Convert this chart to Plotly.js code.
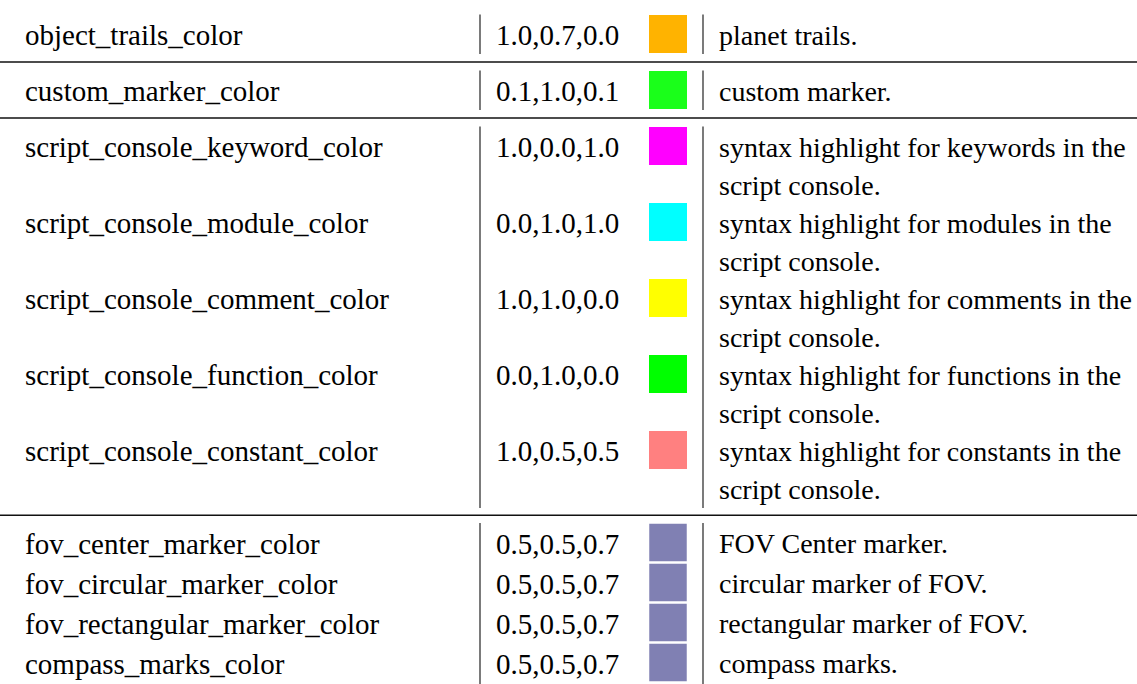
<!DOCTYPE html>
<html>
<head>
<meta charset="utf-8">
<script src="https://cdn.plot.ly/plotly-3.0.1.min.js"></script>
<style>html,body{margin:0;padding:0;background:#fff;}#chart{width:1137px;height:684px;}</style>
</head>
<body>
<div id="chart"></div>
<script>
// ---- data ----
var names = [
  "object_trails_color",
  "custom_marker_color",
  "script_console_keyword_color",
  "script_console_module_color",
  "script_console_comment_color",
  "script_console_function_color",
  "script_console_constant_color",
  "fov_center_marker_color",
  "fov_circular_marker_color",
  "fov_rectangular_marker_color",
  "compass_marks_color"
];
var values = [
  "1.0,0.7,0.0",
  "0.1,1.0,0.1",
  "1.0,0.0,1.0",
  "0.0,1.0,1.0",
  "1.0,1.0,0.0",
  "0.0,1.0,0.0",
  "1.0,0.5,0.5",
  "0.5,0.5,0.7",
  "0.5,0.5,0.7",
  "0.5,0.5,0.7",
  "0.5,0.5,0.7"
];
var descriptions = [
  "planet trails.",
  "custom marker.",
  "syntax highlight for keywords in the\nscript console.",
  "syntax highlight for modules in the\nscript console.",
  "syntax highlight for comments in the\nscript console.",
  "syntax highlight for functions in the\nscript console.",
  "syntax highlight for constants in the\nscript console.",
  "FOV Center marker.",
  "circular marker of FOV.",
  "rectangular marker of FOV.",
  "compass marks."
];
var groups = [0, 1, 2, 2, 2, 2, 2, 3, 3, 3, 3];

// ---- layout computation ----
var W = 1137, H = 684;
var FONT = "Liberation Serif";
var FS = 29, FS_DESC = 28;
var lineStep = {0: 38, 1: 38, 2: 38, 3: 40};
var groupGap = 54.5;
var firstY = 34;

var rowY = [], lastLineY = [], groupStart = {}, groupEnd = {};
var y = firstY;
for (var i = 0; i < names.length; i++) {
  if (i > 0) {
    var prevLines = descriptions[i - 1].split("\n").length;
    var prevLast = rowY[i - 1] + (prevLines - 1) * lineStep[groups[i - 1]];
    if (groups[i] !== groups[i - 1]) y = prevLast + groupGap + (groups[i] === 3 ? 0 : 1.5);
    else y = rowY[i - 1] + prevLines * lineStep[groups[i]];
  }
  rowY.push(y);
  var nl = descriptions[i].split("\n").length;
  lastLineY.push(y + (nl - 1) * lineStep[groups[i]]);
  if (groupStart[groups[i]] === undefined) groupStart[groups[i]] = y;
  groupEnd[groups[i]] = lastLineY[i];
}

function toRgb(v) {
  var p = v.split(",").map(function (s) { return Math.round(parseFloat(s) * 255); });
  return "rgb(" + p.join(",") + ")";
}

var textShift = 1;
var colName = 24, colVal = 557, colSw = 668, colDesc = 718;

var annotations = [];
function addText(x, yv, txt, anchor, size) {
  annotations.push({x: x, y: yv + textShift, xref: "x", yref: "y", text: txt, showarrow: false,
                    xanchor: anchor, yanchor: "middle", borderpad: 0,
                    font: {family: FONT, size: size, color: "#000"}});
}
names.forEach(function (n, i) { addText(colName, rowY[i], n, "left", FS); });
values.forEach(function (v, i) { addText(colVal, rowY[i], v, "center", FS); });
descriptions.forEach(function (d, i) {
  d.split("\n").forEach(function (ln, k) {
    addText(colDesc, rowY[i] + k * lineStep[groups[i]], ln, "left", FS_DESC);
  });
});

var traces = [
  {type: "scatter", mode: "markers", x: values.map(function () { return colSw; }),
   y: rowY,
   marker: {symbol: "square", size: values.map(function (v, i) { return groups[i] === 3 ? 37.5 : 38; }),
            opacity: 1, color: values.map(toRgb), line: {width: 0}}, hoverinfo: "skip"}
];

var shapes = [];
var gkeys = [0, 1, 2, 3];
gkeys.forEach(function (g, gi) {
  var y0 = groupStart[g] - 19.5, y1 = Math.min(groupEnd[g] + 20, H);
  if (g === 3) y1 = H;
  [480, 703].forEach(function (xv) {
    shapes.push({type: "line", xref: "x", yref: "y", x0: xv, x1: xv, y0: y0, y1: y1,
                 line: {color: "#222", width: 1.2}});
  });
  if (gi > 0) {
    var hy = (groupEnd[gkeys[gi - 1]] + groupStart[g]) / 2;
    shapes.push({type: "line", xref: "x", yref: "y", x0: 0, x1: W, y0: hy, y1: hy,
                 line: {color: "#111", width: 1.6}});
  }
});

var layout = {
  width: W, height: H,
  margin: {l: 0, r: 0, t: 0, b: 0, pad: 0},
  paper_bgcolor: "#fff", plot_bgcolor: "#fff",
  showlegend: false,
  font: {family: FONT},
  xaxis: {range: [0, W], visible: false, fixedrange: true},
  yaxis: {range: [H, 0], visible: false, fixedrange: true},
  shapes: shapes,
  annotations: annotations
};
Plotly.newPlot("chart", traces, layout, {staticPlot: true, displayModeBar: false});
</script>
</body>
</html>
